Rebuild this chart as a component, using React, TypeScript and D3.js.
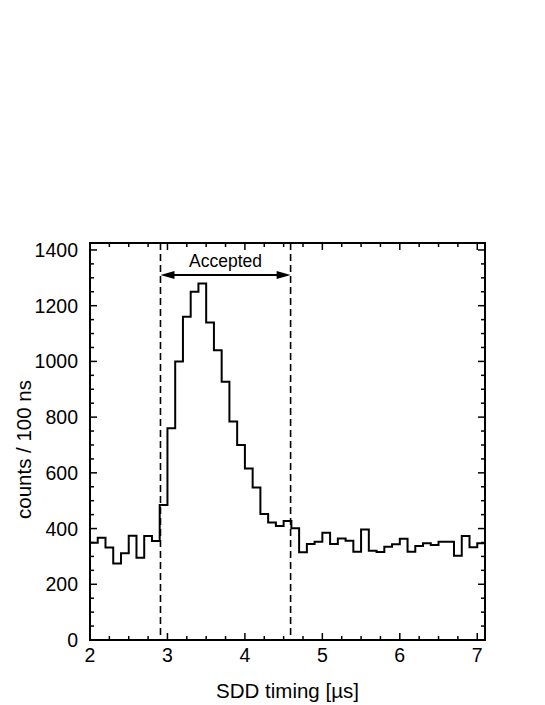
import React from 'react';
import * as d3 from 'd3';

// lower edge of each 100 ns bin [µs]
const timing = [
  2.0, 2.1, 2.2, 2.3, 2.4, 2.5, 2.6, 2.7, 2.8, 2.9,
  3.0, 3.1, 3.2, 3.3, 3.4, 3.5, 3.6, 3.7, 3.8, 3.9,
  4.0, 4.1, 4.2, 4.3, 4.4, 4.5, 4.6, 4.7, 4.8, 4.9,
  5.0, 5.1, 5.2, 5.3, 5.4, 5.5, 5.6, 5.7, 5.8, 5.9,
  6.0, 6.1, 6.2, 6.3, 6.4, 6.5, 6.6, 6.7, 6.8, 6.9,
  7.0,
];
const counts = [
  349, 367, 332, 275, 311, 374, 295, 373, 355, 485,
  760, 1000, 1160, 1250, 1280, 1140, 1040, 927, 784, 700,
  616, 547, 452, 422, 409, 427, 401, 315, 345, 353,
  385, 345, 364, 356, 317, 397, 320, 316, 335, 344,
  363, 317, 337, 347, 341, 353, 353, 302, 373, 333,
  347,
];
const binWidth = 0.1;
const xTicks = [2, 3, 4, 5, 6, 7];
const yTicks = [0, 200, 400, 600, 800, 1000, 1200, 1400];
const cutLow = 2.91;
const cutHigh = 4.59;
const xLabel = 'SDD timing [µs]';
const yLabel = 'counts / 100 ns';
const windowLabel = 'Accepted';

const W = 545, H = 705;
const margin = {left: 90, right: 60, top: 243, bottom: 65};
const font = '"Liberation Sans", Arial, Helvetica, sans-serif';

const App = () => {
  let x = d3.scaleLinear().domain([2, 7.1]).range([margin.left, W - margin.right]);
  let y = d3.scaleLinear().domain([0, 1425]).range([H - margin.bottom, margin.top]);
  let [x0, x1] = x.range();
  let [y0, y1] = y.range();

  let xMinor = d3.range(2, 7.1, 0.25).filter(t => !xTicks.includes(t));
  let yMinor = d3.range(0, 1401, 50).filter(t => !yTicks.includes(t));

  let pts: [number, number][] = timing.map((t, i) => [t, counts[i]]);
  pts.push([timing[timing.length - 1] + binWidth, counts[counts.length - 1]]);
  let hist = d3.line<[number, number]>().x(d => x(d[0])).y(d => y(d[1])).curve(d3.curveStepAfter);

  let arrowY = 275;
  let ax0 = x(cutLow), ax1 = x(cutHigh);
  let head = 14, hw = 4;

  return (
    <svg width={W} height={H} style={{position: 'absolute', left: 0, top: 0, background: '#fff'}}
         fontFamily={font}>
      {/* histogram */}
      <path d={hist(pts) || ''} fill="none" stroke="#000" strokeWidth={2} strokeLinejoin="miter"/>

      {/* acceptance window */}
      {[cutLow, cutHigh].map((c, i) =>
        <line key={i} x1={x(c)} x2={x(c)} y1={y1} y2={y0} stroke="#000" strokeWidth={1.6} strokeDasharray="7,4"/>
      )}
      <line x1={ax0 + head - 2} x2={ax1 - head + 2} y1={arrowY} y2={arrowY} stroke="#000" strokeWidth={1.8}/>
      <path d={`M${ax0},${arrowY}L${ax0 + head},${arrowY - hw}L${ax0 + head},${arrowY + hw}Z`} fill="#000"/>
      <path d={`M${ax1},${arrowY}L${ax1 - head},${arrowY - hw}L${ax1 - head},${arrowY + hw}Z`} fill="#000"/>
      <text x={(ax0 + ax1) / 2} y={267} textAnchor="middle" fontSize={17.5}>{windowLabel}</text>

      {/* ticks on all four sides, pointing inward */}
      <g stroke="#000" strokeWidth={1.5}>
        {xTicks.map(t => <g key={'xm' + t}>
          <line x1={x(t)} x2={x(t)} y1={y0} y2={y0 - 7}/>
          <line x1={x(t)} x2={x(t)} y1={y1} y2={y1 + 7}/>
        </g>)}
        {xMinor.map(t => <g key={'xn' + t}>
          <line x1={x(t)} x2={x(t)} y1={y0} y2={y0 - 4}/>
          <line x1={x(t)} x2={x(t)} y1={y1} y2={y1 + 4}/>
        </g>)}
        {yTicks.map(t => <g key={'ym' + t}>
          <line x1={x0} x2={x0 + 7} y1={y(t)} y2={y(t)}/>
          <line x1={x1} x2={x1 - 7} y1={y(t)} y2={y(t)}/>
        </g>)}
        {yMinor.map(t => <g key={'yn' + t}>
          <line x1={x0} x2={x0 + 4} y1={y(t)} y2={y(t)}/>
          <line x1={x1} x2={x1 - 4} y1={y(t)} y2={y(t)}/>
        </g>)}
      </g>
      <rect x={x0} y={y1} width={x1 - x0} height={y0 - y1} fill="none" stroke="#000" strokeWidth={2}/>

      {/* tick labels */}
      {xTicks.map(t =>
        <text key={'xl' + t} x={x(t)} y={y0 + 22} textAnchor="middle" fontSize={19.5}>{t}</text>
      )}
      {yTicks.map(t =>
        <text key={'yl' + t} x={x0 - 12} y={y(t)} dy="0.36em" textAnchor="end" fontSize={19.5}>{t}</text>
      )}

      {/* axis titles */}
      <text x={(x0 + x1) / 2} y={698} textAnchor="middle" fontSize={20.5}>{xLabel}</text>
      <text transform={`translate(31,${(y0 + y1) / 2 + 8}) rotate(-90)`} textAnchor="middle" fontSize={20.5}>{yLabel}</text>
    </svg>
  );
};

export default App;
